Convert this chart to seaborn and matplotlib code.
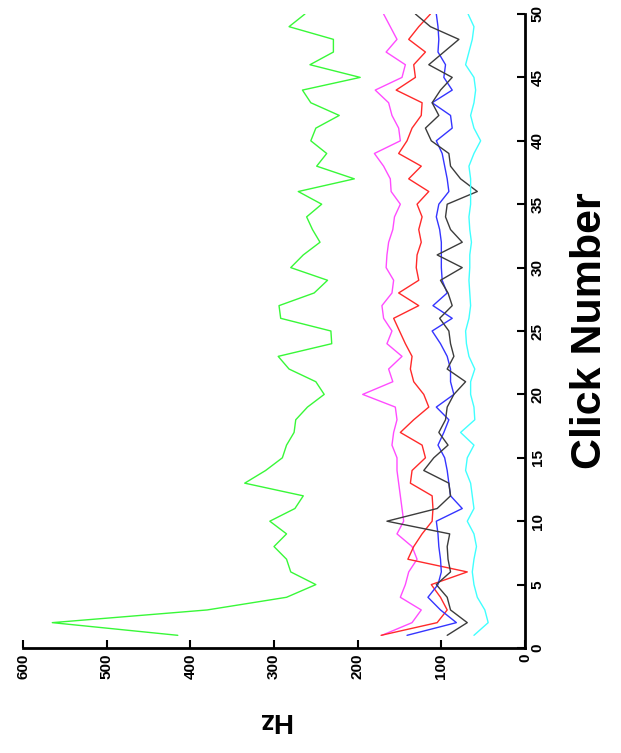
import matplotlib
matplotlib.use("Agg")
import matplotlib.pyplot as plt
import seaborn as sns
import pandas as pd
import numpy as np

clicks = list(range(1, 51))

green = [415, 565, 380, 285, 250, 280, 285, 300, 285, 305,
         275, 265, 335, 310, 290, 285, 276, 274, 260, 240,
         250, 282, 295, 231, 232, 292, 294, 252, 236, 280,
         265, 245, 254, 261, 243, 271, 204, 249, 237, 256,
         250, 222, 256, 266, 197, 257, 229, 229, 282, 263]
magenta = [171, 135, 124, 149, 143, 139, 129, 135, 153, 145,
           147, 149, 151, 153, 153, 159, 157, 153, 155, 194,
           158, 163, 147, 165, 159, 169, 171, 159, 157, 166,
           165, 163, 158, 156, 149, 160, 161, 169, 180, 149,
           151, 159, 163, 179, 147, 143, 166, 153, 161, 169]
red = [172, 105, 93, 101, 112, 69, 140, 133, 123, 111,
       110, 111, 137, 135, 119, 123, 149, 133, 115, 121,
       133, 137, 135, 143, 150, 157, 127, 151, 127, 130,
       129, 124, 127, 123, 129, 115, 139, 124, 151, 141,
       135, 124, 123, 154, 131, 133, 119, 139, 127, 113]
blue = [141, 82, 101, 116, 104, 100, 101, 103, 104, 106,
        75, 89, 91, 93, 96, 104, 97, 91, 106, 85,
        89, 89, 93, 101, 111, 87, 110, 93, 99, 100,
        100, 100, 102, 106, 103, 91, 93, 96, 99, 106,
        87, 89, 111, 87, 97, 95, 104, 103, 104, 106]
black = [93, 69, 89, 93, 106, 89, 92, 93, 90, 165,
         105, 89, 91, 121, 109, 92, 103, 95, 93, 85,
         71, 93, 85, 89, 91, 102, 87, 92, 101, 75,
         105, 75, 89, 95, 93, 57, 77, 89, 91, 112,
         119, 103, 111, 101, 87, 115, 97, 79, 113, 131]
cyan = [61, 44, 48, 57, 61, 63, 61, 58, 61, 69,
        61, 63, 65, 71, 69, 61, 77, 60, 61, 65,
        65, 60, 67, 70, 71, 67, 65, 66, 67, 66,
        66, 64, 66, 67, 65, 65, 65, 67, 61, 53,
        61, 65, 61, 59, 61, 71, 67, 63, 61, 68]

series_names = ["green", "magenta", "red", "blue", "black", "cyan"]
series_values = [green, magenta, red, blue, black, cyan]
colors = {"green": "#38f838", "magenta": "#ff4cff", "red": "#ff2a2a",
          "blue": "#3535ff", "black": "#3c3c3c", "cyan": "#40ffff"}

hz_ticks = [0, 100, 200, 300, 400, 500, 600]
click_ticks = [0, 5, 10, 15, 20, 25, 30, 35, 40, 45, 50]

rows = []
for name, vals in zip(series_names, series_values):
    for c, v in zip(clicks, vals):
        rows.append({"series": name, "click": c, "hz": v})
df = pd.DataFrame(rows)

sns.set_style("white")
plt.rcParams["font.family"] = ["Liberation Sans", "DejaVu Sans"]
plt.rcParams["text.color"] = "black"
plt.rcParams["axes.labelcolor"] = "black"

W, H = 621, 753
fig = plt.figure(figsize=(W / 100, H / 100), dpi=100)
ax = fig.add_axes([23 / W, (H - 648) / H, (525 - 23) / W, (648 - 14) / H])

sns.lineplot(data=df, x="hz", y="click", hue="series", palette=colors,
             sort=False, estimator=None, orient="y", legend=False,
             linewidth=1.0, ax=ax)

ax.set_xlim(600, 0)
ax.set_ylim(0, 50)
ax.set_xticks(hz_ticks)
ax.set_yticks(click_ticks)
ax.set_xticklabels([str(t) for t in hz_ticks], rotation=90,
                   fontsize=11, fontweight="bold")
ax.set_yticklabels([str(t) for t in click_ticks], rotation=90,
                   fontsize=11, fontweight="bold", va="center")
ax.yaxis.tick_right()
ax.yaxis.set_label_position("right")
for s in ["top", "left"]:
    ax.spines[s].set_visible(False)
for s in ["right", "bottom"]:
    ax.spines[s].set_visible(True)
    ax.spines[s].set_linewidth(2)
    ax.spines[s].set_color("black")
ax.tick_params(axis="both", direction="in", length=6, width=1.5,
               colors="black", pad=4)
ax.tick_params(axis="y", right=True, left=False)
ax.tick_params(axis="x", bottom=True)

ax.set_xlabel("Hz", fontsize=20, fontweight="bold", rotation=180,
              labelpad=20, color="black")
ax.set_ylabel("Click Number", fontsize=31, fontweight="bold", rotation=90,
              labelpad=18, color="black")

fig.savefig("out.png", dpi=100, facecolor="white")
